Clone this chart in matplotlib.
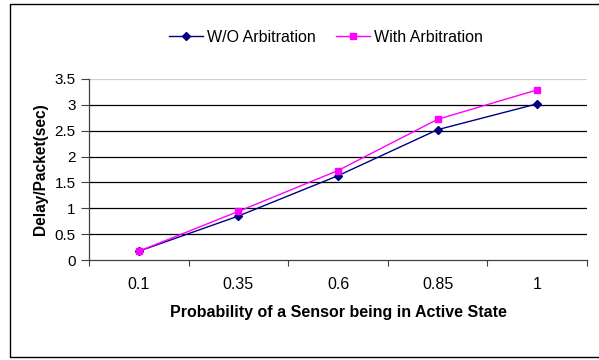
import numpy as np
import matplotlib.pyplot as plt
from matplotlib.patches import Rectangle

# Data
Prob     = ['0.1', '0.35', '0.6', '0.85', '1']
WO_Arb   = [0.17, 0.85, 1.63, 2.52, 3.02]   # W/O Arbitration
With_Arb = [0.17, 0.94, 1.73, 2.72, 3.29]   # With Arbitration

plt.rcParams['font.family'] = ['Liberation Sans', 'DejaVu Sans']

fig = plt.figure(figsize=(5.99, 3.6), dpi=100)
ax = fig.add_axes([89/599, 1-260/360, (587-89)/599, (260-79)/360])

x = np.arange(len(Prob)) + 0.5
ax.plot(x, WO_Arb, color='#000080', marker='D', markersize=4.5, lw=1,
        label='W/O Arbitration')
ax.plot(x, With_Arb, color='#FF00FF', marker='s', markersize=5, lw=1,
        label='With Arbitration')

# Excel-style category axis: ticks between categories, labels at centres
ax.set_xlim(0, len(Prob))
ax.set_xticks(np.arange(len(Prob) + 1))
ax.set_xticklabels([])
ax.set_xticks(x, minor=True)
ax.set_xticklabels(Prob, minor=True, fontsize=11.5)
ax.tick_params(axis='x', which='major', direction='out', length=4, width=0.8, color='#404040')
ax.tick_params(axis='x', which='minor', length=0, pad=12.5)

ax.set_ylim(0, 3.5)
ax.set_yticks(np.arange(0, 3.51, 0.5))
ax.set_yticklabels(['0', '0.5', '1', '1.5', '2', '2.5', '3', '3.5'], fontsize=11)
ax.tick_params(axis='y', direction='out', length=5.5, width=0.8, color='#404040', pad=4)

# gridlines
for yv in np.arange(0.5, 3.01, 0.5):
    ax.axhline(yv, color='black', lw=0.9, zorder=0)
ax.axhline(3.5, color='#d0d0d0', lw=0.9, zorder=0)

for s in ['top', 'right']:
    ax.spines[s].set_visible(False)
for s in ['left', 'bottom']:
    ax.spines[s].set_color('#404040')
    ax.spines[s].set_linewidth(0.9)

ax.set_xlabel('Probability of a Sensor being in Active State', fontsize=11.5,
              fontweight='bold', labelpad=9)
ax.set_ylabel('Delay/Packet(sec)', fontsize=11.2, fontweight='bold', labelpad=5)

fig.legend(loc='center', bbox_to_anchor=(326/599, 1-37/360), ncol=2, frameon=False,
           fontsize=11.5, handlelength=2.1, columnspacing=1.3, handletextpad=0.25)

# outer chart border
fig.patches.append(Rectangle((9.5/599, 3/360), 1.0, 353.5/360, transform=fig.transFigure,
                             fill=False, edgecolor='black', lw=1))

fig.savefig('out.png', dpi=100)
